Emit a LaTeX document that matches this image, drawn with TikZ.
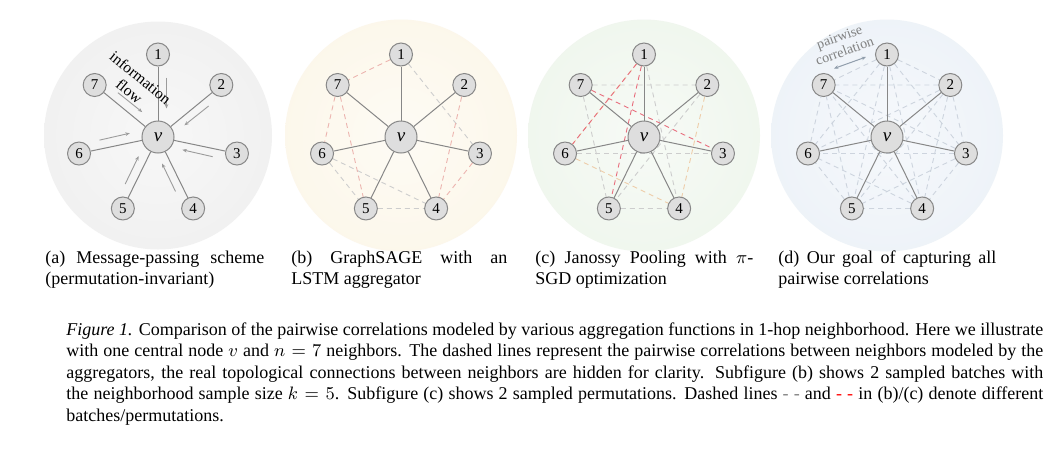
\documentclass[tikz,border=0pt]{standalone}
\usepackage{fontspec}
\setmainfont{Liberation Serif}
\usetikzlibrary{arrows.meta,calc,backgrounds}
\definecolor{bga}{RGB}{240,240,240}
\definecolor{bgb}{RGB}{252,247,234}
\definecolor{bgc}{RGB}{239,246,237}
\definecolor{bgd}{RGB}{237,242,248}
\definecolor{nodefill}{RGB}{222,222,222}
\definecolor{nodedraw}{RGB}{135,135,135}
\definecolor{edgec}{RGB}{135,135,135}
\definecolor{dgray}{RGB}{205,205,205}
\definecolor{dpink}{RGB}{236,180,175}
\definecolor{dred}{RGB}{232,110,125}
\definecolor{dtan}{RGB}{238,205,170}
\definecolor{dblue}{RGB}{205,212,222}
\definecolor{flowc}{RGB}{155,155,155}
\definecolor{pcc}{RGB}{145,158,172}
\pgfdeclareradialshading{discA}{\pgfpoint{0bp}{0bp}}{color(0bp)=(bga!50!white); color(28bp)=(bga); color(42bp)=(bga); color(50bp)=(white)}
\pgfdeclareradialshading{discB}{\pgfpoint{0bp}{0bp}}{color(0bp)=(bgb!50!white); color(28bp)=(bgb); color(42bp)=(bgb); color(50bp)=(white)}
\pgfdeclareradialshading{discC}{\pgfpoint{0bp}{0bp}}{color(0bp)=(bgc!50!white); color(28bp)=(bgc); color(42bp)=(bgc); color(50bp)=(white)}
\pgfdeclareradialshading{discD}{\pgfpoint{0bp}{0bp}}{color(0bp)=(bgd!50!white); color(28bp)=(bgd); color(42bp)=(bgd); color(50bp)=(white)}
\begin{document}
\begin{tikzpicture}[x=0.5pt,y=-0.5pt,
  nb/.style={circle,draw=nodedraw,fill=nodefill,line width=0.5pt,minimum size=11.5pt,inner sep=0pt,font=\fontsize{7.5}{8}\selectfont},
  ctr/.style={circle,draw=nodedraw,fill=nodefill,line width=0.5pt,minimum size=16pt,inner sep=0pt,font=\fontsize{9.5}{10}\selectfont\itshape},
  spoke/.style={draw=edgec,line width=0.5pt},
  dsh/.style={line width=0.45pt,dash pattern=on 2.5pt off 2pt},
  flow/.style={draw=flowc,line width=0.45pt,-{Stealth[length=2.2pt,width=1.8pt]}},
  sub/.style={anchor=base west,inner sep=0pt}]
\useasboundingbox (0,0) rectangle (1050,456);
\begin{pgfonlayer}{background}
\fill[white] (0,0) rectangle (1050,456);
\shade[shading=discA] (158,135.5) circle[radius=114];
\shade[shading=discB] (401,135.5) circle[radius=116];
\shade[shading=discC] (644,135.5) circle[radius=116];
\shade[shading=discD] (887,135.5) circle[radius=116];
\end{pgfonlayer}
\foreach \p/\cx in {a/158,b/401,c/644,d/887}{
  \node[ctr] (\p-v) at (\cx,137) {v};
  \foreach \i in {1,...,7}{
    \pgfmathsetmacro\ang{90-360/7*(\i-1)}
    \node[nb] (\p-\i) at ({\cx+81*cos(\ang)},{135.5-81*sin(\ang)}) {\i};
  }
}
\begin{pgfonlayer}{background}
% (b) two batches
\foreach \s/\t in {1/3,6/4,5/4,6/5}{\draw[dsh,draw=dgray] (b-\s) -- (b-\t);}
\foreach \s/\t in {1/7,7/6,7/5,2/4,3/4}{\draw[dsh,draw=dpink] (b-\s) -- (b-\t);}
% (c) two permutations
\foreach \s/\t in {7/2,1/4,2/5,6/3,5/4,7/5}{\draw[dsh,draw=dgray] (c-\s) -- (c-\t);}
\foreach \s/\t in {6/1,2/4,6/4}{\draw[dsh,draw=dtan] (c-\s) -- (c-\t);}
\foreach \s/\t in {1/5,7/3,1/6}{\draw[dsh,draw=dred] (c-\s) -- (c-\t);}
% (d) all pairs
\foreach \i [evaluate=\i as \k using int(\i+1)] in {1,...,6}{
  \foreach \j in {\k,...,7}{\draw[dsh,draw=dblue] (d-\i) -- (d-\j);}
}
\foreach \p in {a,b,c,d}{
  \foreach \i in {1,...,7}{\draw[spoke] (\p-v) -- (\p-\i);}
}
\end{pgfonlayer}
% (a) information flow arrows
\foreach \i in {1,...,7}{
  \pgfmathsetmacro\ang{90-360/7*(\i-1)}
  \coordinate (as\i) at ({158+58*cos(\ang)+8.5*sin(\ang)},{135.5-58*sin(\ang)+8.5*cos(\ang)});
  \coordinate (ae\i) at ({158+27*cos(\ang)+8.5*sin(\ang)},{135.5-27*sin(\ang)+8.5*cos(\ang)});
  \draw[flow] (as\i) -- (ae\i);
}
\node[rotate=-39,align=center,font=\fontsize{7.8}{8.8}\selectfont] (info) at (135,84.5) {information\\flow};
% (d) pairwise correlation
\node[rotate=20,align=center,text=gray,font=\fontsize{7}{7.6}\selectfont] (pc) at (842,44) {pairwise\\correlation};
\coordinate (pcA) at (834,68.5);
\coordinate (pcB) at (866,57);
\draw[draw=pcc,line width=0.5pt,{Stealth[length=2.2pt,width=1.8pt]}-{Stealth[length=2.2pt,width=1.8pt]}] (pcA) -- (pcB);
% subcaptions
\node[sub] (sa) at (45,263.5) {\parbox[t]{109.5pt}{\fontsize{9}{10.4}\selectfont (a) Message-passing scheme\linebreak (permutation-invariant)}};
\node[sub] (sb) at (291,263.5) {\parbox[t]{108pt}{\fontsize{9}{10.4}\selectfont (b) GraphSAGE with an\linebreak LSTM aggregator}};
\node[sub] (sc) at (535,263.5) {\parbox[t]{109pt}{\fontsize{9}{10.4}\selectfont (c) Janossy Pooling with $\pi$-\linebreak SGD optimization}};
\node[sub] (sd) at (778,263.5) {\parbox[t]{109pt}{\fontsize{9}{10.4}\selectfont (d) Our goal of capturing all\linebreak pairwise correlations}};
% caption
\node[sub] (cap) at (66,335) {\parbox[t]{488.5pt}{\fontsize{9}{10.83}\selectfont \textit{Figure 1.} Comparison of the pairwise correlations modeled by various aggregation functions in 1-hop neighborhood. Here we illustrate\linebreak with one central node $v$ and $n=7$ neighbors. The dashed lines represent the pairwise correlations between neighbors modeled by the\linebreak aggregators, the real topological connections between neighbors are hidden for clarity. Subfigure (b) shows 2 sampled batches with\linebreak the neighborhood sample size $k=5$. Subfigure (c) shows 2 sampled permutations. Dashed lines {\color{gray}- -} and {\color{red}- -} in (b)/(c) denote different\linebreak batches/permutations.}};
\end{tikzpicture}
\end{document}
